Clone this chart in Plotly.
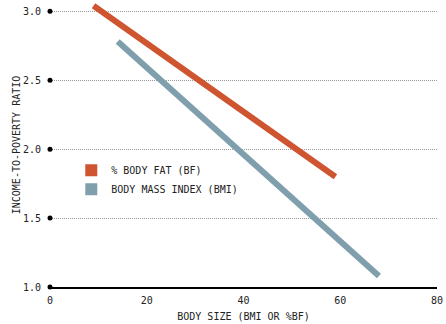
import plotly.graph_objects as go

# Fitted relationship endpoints: body size vs. income-to-poverty ratio
bf_size = [9, 59]
bf_ratio = [3.04, 1.80]
bmi_size = [14, 68]
bmi_ratio = [2.78, 1.08]

y_ticks = [1.0, 1.5, 2.0, 2.5, 3.0]
x_ticks = [0, 20, 40, 60, 80]

BF_COLOR = "#cf5430"
BMI_COLOR = "#7f9fad"
FONT = "DejaVu Sans Mono"
TXT = "#222"

fig = go.Figure()

fig.add_trace(go.Scatter(x=bf_size, y=bf_ratio, mode="lines",
                         line=dict(color=BF_COLOR, width=6), showlegend=False))
fig.add_trace(go.Scatter(x=bmi_size, y=bmi_ratio, mode="lines",
                         line=dict(color=BMI_COLOR, width=6), showlegend=False))

# Legend entries with square swatches
fig.add_trace(go.Scatter(x=[None], y=[None], mode="markers", name="% BODY FAT (BF)",
                         marker=dict(symbol="square", size=11, color=BF_COLOR)))
fig.add_trace(go.Scatter(x=[None], y=[None], mode="markers", name="BODY MASS INDEX (BMI)",
                         marker=dict(symbol="square", size=11, color=BMI_COLOR)))

# Black dots at the start of each gridline
fig.add_trace(go.Scatter(x=[0] * len(y_ticks), y=y_ticks, mode="markers",
                         marker=dict(color="black", size=5), showlegend=False,
                         cliponaxis=False, hoverinfo="skip"))

fig.update_layout(
    width=446, height=324,
    margin=dict(l=50, r=9, t=3, b=37),
    paper_bgcolor="white", plot_bgcolor="white",
    font=dict(family=FONT, size=9, color=TXT),
    legend=dict(x=0.055, y=0.462, xanchor="left", yanchor="top",
                bgcolor="rgba(0,0,0,0)", font=dict(family=FONT, size=10, color=TXT),
                itemsizing="constant", tracegroupgap=0),
)

fig.update_xaxes(
    range=[0, 80], tickvals=x_ticks, ticktext=[str(v) for v in x_ticks],
    showgrid=False, zeroline=False,
    showline=True, linecolor="black", linewidth=2,
    ticks="", ticklabelstandoff=3, tickfont=dict(family=FONT, size=10, color=TXT),
    title=dict(text="BODY SIZE (BMI OR %BF)", standoff=8,
               font=dict(family=FONT, size=10, color=TXT)),
)

fig.update_yaxes(
    range=[1.0, 3.06], tickvals=y_ticks, ticktext=[f"{v:.1f}" for v in y_ticks],
    showgrid=True, gridcolor="#999", gridwidth=1, griddash="1px,1px",
    zeroline=False, showline=False, ticks="", ticklabelstandoff=8,
    tickfont=dict(family=FONT, size=10, color=TXT),
    title=dict(text="INCOME-TO-POVERTY RATIO", standoff=0,
               font=dict(family=FONT, size=10, color=TXT)),
)

fig.write_html("out.html")
